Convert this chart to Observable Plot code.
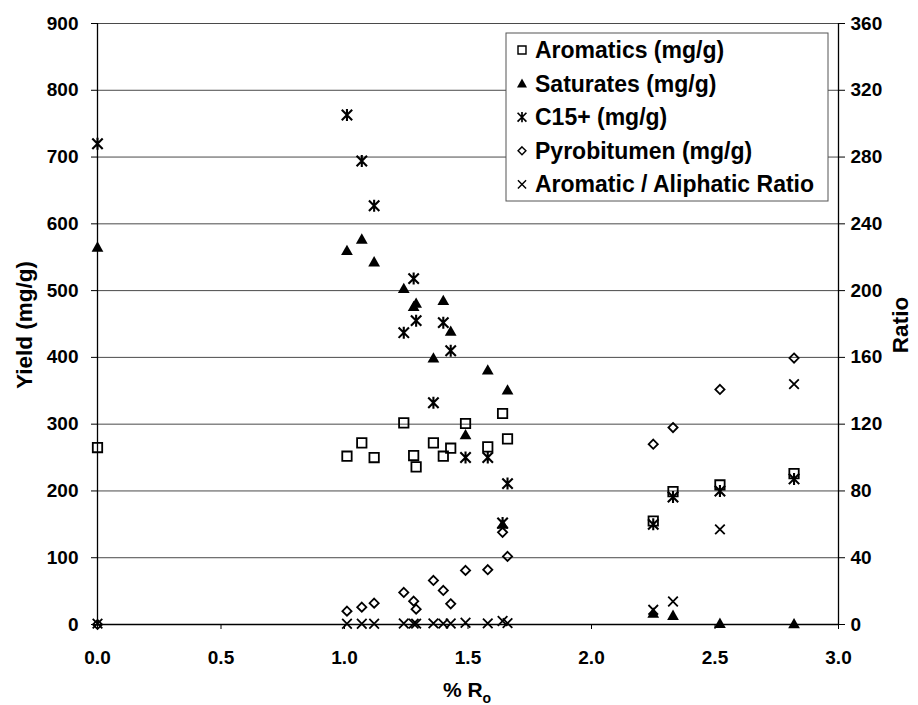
<!DOCTYPE html>
<html>
<head>
<meta charset="utf-8">
<script src="https://cdn.jsdelivr.net/npm/d3@7"></script>
<script src="https://cdn.jsdelivr.net/npm/@observablehq/plot@0.6"></script>
<style>
  html, body { margin: 0; padding: 0; background: #fff; }
  #chart { width: 918px; height: 705px; }
  #chart svg { display: block; }
</style>
</head>
<body>
<div id="chart"></div>
<script>
// Vitrinite reflectance (% Ro) of each sample
const ro          = [0.00, 1.01, 1.07, 1.12, 1.24, 1.28, 1.29, 1.36, 1.40, 1.43, 1.49, 1.58, 1.64, 1.66, 2.25, 2.33, 2.52, 2.82];
// Yields, mg/g (left axis)
const aromatics   = [265, 252, 272, 250, 302, 253, 236, 272, 252, 264, 301, 266, 316, 278, 155, 199, 209, 226];
const saturates   = [565, 560, 577, 543, 503, 476, 481, 399, 485, 439, 284, 381, 150, 351, 17, 13.5, 1.5, 1];
const c15plus     = [720, 763, 694, 627, 437, 518, 455, 332, 452, 410, 250, 250, 152, 211, 150, 191, 200, 218];
const pyrobitumen = [0, 20, 26, 32, 48, 35, 23, 66, 51, 31, 81, 82, 138, 102, 270, 295, 352, 399];
// Aromatic / aliphatic ratio (right axis)
const aroAliRatio = [0.5, 0.45, 0.47, 0.46, 0.6, 0.53, 0.49, 0.68, 0.52, 0.6, 1.06, 0.7, 2.1, 0.79, 8.8, 13.8, 57, 144];

// Axis ticks
const xTicks     = [0, 0.5, 1.0, 1.5, 2.0, 2.5, 3.0];
const yTicks     = [0, 100, 200, 300, 400, 500, 600, 700, 800, 900];
const ratioTicks = [0, 40, 80, 120, 160, 200, 240, 280, 320, 360];

const seriesNames = ["Aromatics (mg/g)", "Saturates (mg/g)", "C15+ (mg/g)", "Pyrobitumen (mg/g)", "Aromatic / Aliphatic Ratio"];

const rows = ro.map((r, i) => ({
  ro: r,
  aromatics: aromatics[i],
  saturates: saturates[i],
  c15plus: c15plus[i],
  pyrobitumen: pyrobitumen[i],
  ratio: aroAliRatio[i]
}));

// The ratio axis (0–360) shares the plot height with the yield axis (0–900)
const yMax = 900, ratioMax = 360;
const k = yMax / ratioMax;

// Marker shapes (size is the symbol area; r is recovered from it)
const sym = (fn) => ({ draw(c, size) { fn(c, Math.sqrt(size / Math.PI)); } });
const squareSym = sym((c, r) => { c.moveTo(-r, -r); c.lineTo(r, -r); c.lineTo(r, r); c.lineTo(-r, r); c.closePath(); });
const triSym = sym((c, r) => { c.moveTo(0, -r * 1.05); c.lineTo(r * 1.05, r * 0.8); c.lineTo(-r * 1.05, r * 0.8); c.closePath(); });
const asteriskSym = sym((c, r) => { c.moveTo(-r, -r); c.lineTo(r, r); c.moveTo(r, -r); c.lineTo(-r, r); c.moveTo(0, -r * 1.15); c.lineTo(0, r * 1.15); });
const diamondSym = sym((c, r) => { c.moveTo(0, -r); c.lineTo(r, 0); c.lineTo(0, r); c.lineTo(-r, 0); c.closePath(); });
const timesSym = sym((c, r) => { c.moveTo(-r, -r); c.lineTo(r, r); c.moveTo(r, -r); c.lineTo(-r, r); });

const styles = [
  { symbol: squareSym,   r: 4.7, fill: "none", stroke: "#000", strokeWidth: 1.8 },
  { symbol: triSym,      r: 5.6, fill: "#000", stroke: "none", strokeWidth: 0 },
  { symbol: asteriskSym, r: 5.2, fill: "none", stroke: "#000", strokeWidth: 2.1 },
  { symbol: diamondSym,  r: 4.6, fill: "none", stroke: "#000", strokeWidth: 1.8 },
  { symbol: timesSym,    r: 4.8, fill: "none", stroke: "#000", strokeWidth: 1.8 }
];

const font = "'Liberation Sans', Arial, Helvetica, sans-serif";

const chart = Plot.plot({
  width: 918,
  height: 705,
  marginLeft: 97,
  marginRight: 80,
  marginTop: 23,
  marginBottom: 81,
  style: { fontFamily: font, fontWeight: "bold", fontSize: "19px", color: "#000", background: "#fff", overflow: "visible" },
  x: { domain: [0, 3] },
  y: { domain: [0, yMax] },
  marks: [
    Plot.gridY(yTicks, { stroke: "#4a4a4a", strokeOpacity: 1, strokeWidth: 1 }),
    Plot.ruleX([0, 3], { stroke: "#000", strokeWidth: 1.3 }),
    Plot.ruleY([0], { stroke: "#000", strokeWidth: 1.3 }),
    Plot.axisY(yTicks, { anchor: "left", tickSize: 6, tickPadding: 13, label: null, fontSize: 19, fontWeight: "bold" }),
    Plot.axisY(ratioTicks.map(v => v * k), {
      anchor: "right", tickSize: 6, tickPadding: 6, label: null, fontSize: 19, fontWeight: "bold",
      tickFormat: v => String(Math.round(v / k))
    }),
    Plot.axisX(xTicks, { anchor: "bottom", tickSize: 5, tickPadding: 21, label: null, fontSize: 19, fontWeight: "bold", tickFormat: d => d.toFixed(1) }),
    Plot.dot(rows, { x: "ro", y: "aromatics", ...styles[0] }),
    Plot.dot(rows, { x: "ro", y: "saturates", ...styles[1] }),
    Plot.dot(rows, { x: "ro", y: "c15plus", ...styles[2] }),
    Plot.dot(rows, { x: "ro", y: "pyrobitumen", ...styles[3] }),
    Plot.dot(rows, { x: "ro", y: d => d.ratio * k, ...styles[4] })
  ]
});

document.getElementById("chart").append(chart);

// Axis titles and legend
const svg = d3.select(chart);

svg.append("text")
  .attr("transform", "translate(24,325) rotate(-90)")
  .attr("text-anchor", "middle").attr("dominant-baseline", "central")
  .style("font", `bold 22.5px ${font}`).attr("fill", "#000")
  .text("Yield (mg/g)");

svg.append("text")
  .attr("transform", "translate(900,325) rotate(-90)")
  .attr("text-anchor", "middle").attr("dominant-baseline", "central")
  .style("font", `bold 22.5px ${font}`).attr("fill", "#000")
  .text("Ratio");

const xt = svg.append("text")
  .attr("x", 467).attr("y", 697)
  .attr("text-anchor", "middle")
  .style("font", `bold 21px ${font}`).attr("fill", "#000");
xt.append("tspan").text("% R");
xt.append("tspan").attr("dy", 6).style("font-size", "14px").text("o");

const lg = svg.append("g").attr("transform", "translate(506,33)");
lg.append("rect").attr("width", 322).attr("height", 168)
  .attr("fill", "#fff").attr("stroke", "#555").attr("stroke-width", 1);
seriesNames.forEach((name, i) => {
  const cy = 17 + i * 33.6;
  const s = styles[i];
  const p = d3.path();
  s.symbol.draw(p, (s.r * 0.85) ** 2 * Math.PI);
  lg.append("path")
    .attr("transform", `translate(16,${cy})`)
    .attr("d", p.toString())
    .attr("fill", s.fill).attr("stroke", s.stroke).attr("stroke-width", s.strokeWidth * 0.8);
  lg.append("text")
    .attr("x", 29).attr("y", cy)
    .attr("text-anchor", "start")
    .attr("dominant-baseline", "central")
    .style("font", `bold 23px ${font}`).attr("fill", "#000")
    .text(name);
});
</script>
</body>
</html>
